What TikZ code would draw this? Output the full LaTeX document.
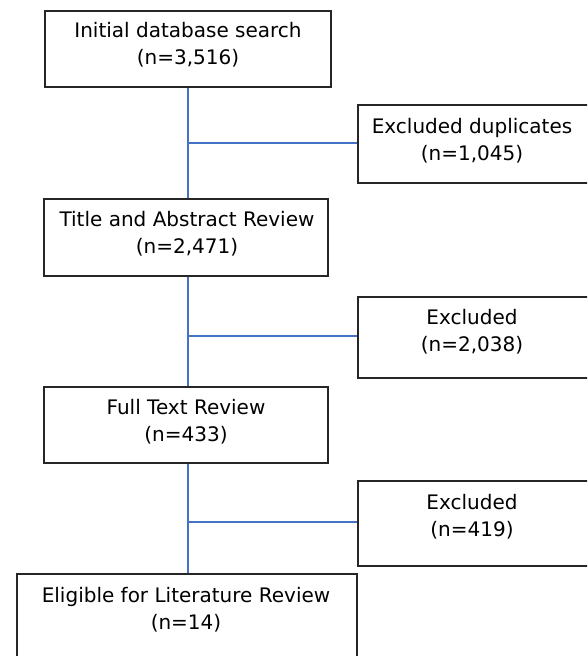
\documentclass[tikz,border=0pt]{standalone}
\usepackage{fontspec}
\setmainfont{DejaVu Sans}
\definecolor{lineblue}{RGB}{68,114,196}
\begin{document}
\begin{tikzpicture}[x=1pt,y=-1pt,
  box/.style={draw=black!85, line width=1.6pt, fill=white, rectangle, inner sep=0pt},
  txt/.style={font=\fontsize{20}{27}\selectfont, align=center, inner sep=0pt, anchor=north},
  link/.style={draw=lineblue, line width=2pt}]
\useasboundingbox (0,0) rectangle (587,656);
\clip (0,0) rectangle (587,656);
% boxes
\node[box, minimum width=286pt, minimum height=76pt] (b1) at (188,49) {};
\node[box, minimum width=231pt, minimum height=78pt] (b2) at (473.5,144) {};
\node[box, minimum width=284pt, minimum height=77pt] (b3) at (186,237.5) {};
\node[box, minimum width=231pt, minimum height=81pt] (b4) at (473.5,337.5) {};
\node[box, minimum width=284pt, minimum height=76pt] (b5) at (186,425) {};
\node[box, minimum width=231pt, minimum height=85pt] (b6) at (473.5,523.5) {};
\node[box, minimum width=340pt, minimum height=116pt] (b7) at (187,632) {};
% texts
\node[txt] (t1) at (188,21.8) {Initial database search\\(n=3,516)};
\node[txt] (t2) at (472,117.8) {Excluded duplicates\\(n=1,045)};
\node[txt] (t3) at (187,210.8) {Title and Abstract Review\\(n=2,471)};
\node[txt] (t4) at (472,308.8) {Excluded\\(n=2,038)};
\node[txt] (t5) at (186,398.8) {Full Text Review\\(n=433)};
\node[txt] (t6) at (472,493.8) {Excluded\\(n=419)};
\node[txt] (t7) at (186,586.8) {Eligible for Literature Review\\(n=14)};
% connectors
\coordinate (v1) at (b1.south);
\coordinate (h2) at (0,143);
\coordinate (h4) at (0,336);
\coordinate (h6) at (0,522);
\draw[link] (v1) -- (v1 |- b3.north);
\draw[link] (v1 |- b3.south) -- (v1 |- b5.north);
\draw[link] (v1 |- b5.south) -- (v1 |- b7.north);
\draw[link] (v1 |- h2) -- (b2.west |- h2);
\draw[link] (v1 |- h4) -- (b4.west |- h4);
\draw[link] (v1 |- h6) -- (b6.west |- h6);
\end{tikzpicture}
\end{document}
